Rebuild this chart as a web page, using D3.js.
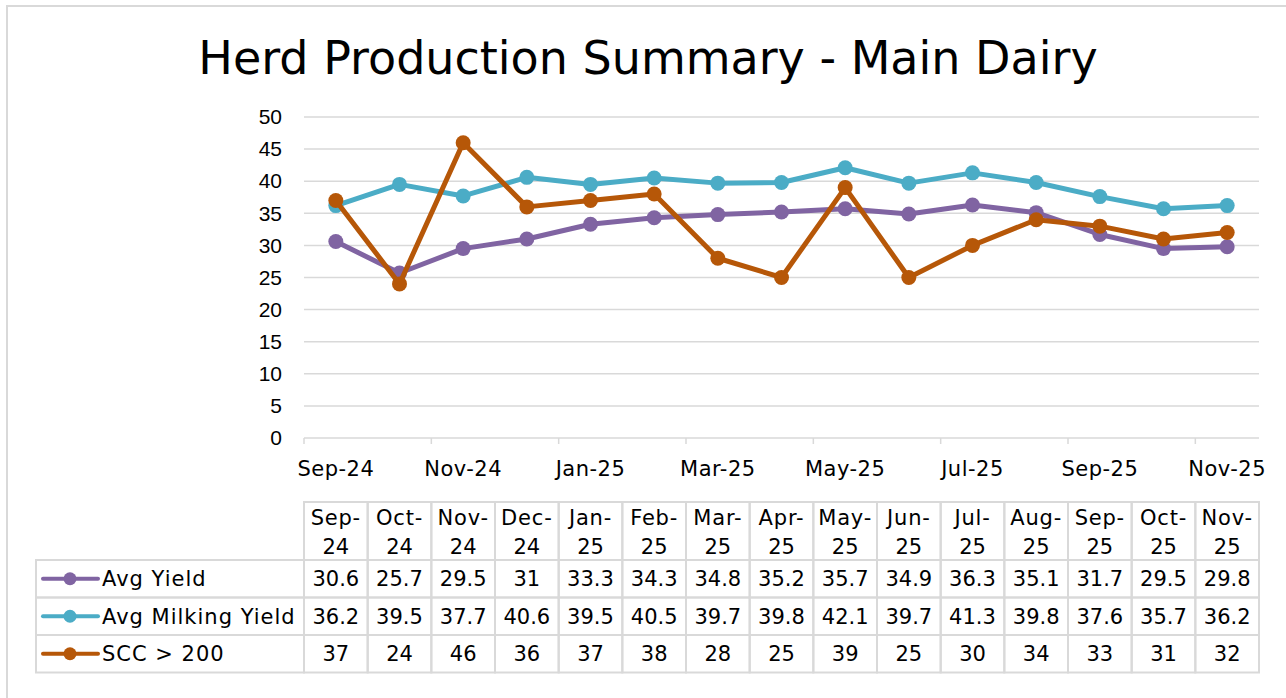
<!DOCTYPE html>
<html>
<head>
<meta charset="utf-8">
<script src="https://cdn.jsdelivr.net/npm/d3@7"></script>
<style>
  body { margin: 0; background: #fff; }
  svg { display: block; font-family: 'DejaVu Sans', sans-serif; }
</style>
</head>
<body>
<div id="chart"></div>
<script>
// data
const months = ['Sep-24', 'Oct-24', 'Nov-24', 'Dec-24', 'Jan-25', 'Feb-25', 'Mar-25', 'Apr-25',
    'May-25', 'Jun-25', 'Jul-25', 'Aug-25', 'Sep-25', 'Oct-25', 'Nov-25']
const avgYield = [30.6, 25.7, 29.5, 31, 33.3, 34.3, 34.8, 35.2, 35.7, 34.9, 36.3, 35.1, 31.7, 29.5, 29.8]
const avgMilkingYield = [36.2, 39.5, 37.7, 40.6, 39.5, 40.5, 39.7, 39.8, 42.1, 39.7, 41.3, 39.8, 37.6, 35.7, 36.2]
const scc = [37, 24, 46, 36, 37, 38, 28, 25, 39, 25, 30, 34, 33, 31, 32]
const yTicks = [0, 5, 10, 15, 20, 25, 30, 35, 40, 45, 50]

const series = [
    { name: 'Avg Yield', values: avgYield, color: '#8064a2' },
    { name: 'Avg Milking Yield', values: avgMilkingYield, color: '#4bacc6' },
    { name: 'SCC > 200', values: scc, color: '#b65708' }
]

let width = 1286,
    height = 698,
    margin = { top: 117, right: 27, bottom: 260, left: 304 },
    fs = 21

let svg = d3.select('#chart').append('svg')
    .attr('width', width)
    .attr('height', height)

// chart frame (cut off on the right and bottom in the original)
svg.append('rect')
    .attr('x', 7).attr('y', 6)
    .attr('width', width + 10).attr('height', height + 10)
    .attr('fill', '#fff')
    .attr('stroke', '#d9d9d9')
    .attr('stroke-width', 2)

svg.append('text')
    .attr('x', 648)
    .attr('y', 74)
    .attr('text-anchor', 'middle')
    .attr('font-size', 46)
    .attr('fill', '#000')
    .text('Herd Production Summary - Main Dairy')

let x = d3.scaleBand()
    .domain(months)
    .range([margin.left, width - margin.right])

let y = d3.scaleLinear()
    .domain([0, 50])
    .range([height - margin.bottom, margin.top])

// gridlines
svg.append('g')
    .selectAll('line')
    .data(yTicks)
    .enter().append('line')
    .attr('x1', margin.left)
    .attr('x2', width - margin.right)
    .attr('y1', d => y(d))
    .attr('y2', d => y(d))
    .attr('stroke', '#d9d9d9')
    .attr('stroke-width', 1.5)

let yAxis = g => g
    .attr('transform', `translate(${margin.left - 22},0)`)
    .call(d3.axisLeft(y).tickValues(yTicks).tickSize(0).tickPadding(0))
    .call(g => g.select('.domain').remove())
    .call(g => g.selectAll('text').attr('font-size', fs).attr('fill', '#000').attr('font-family', 'inherit'))

svg.append('g').call(yAxis)

// category axis: ticks on every second boundary, labels on every second category
let y0 = y(0)
svg.append('g')
    .selectAll('line')
    .data(months.filter((d, i) => i % 2 === 0))
    .enter().append('line')
    .attr('x1', d => x(d))
    .attr('x2', d => x(d))
    .attr('y1', y0)
    .attr('y2', y0 + 6)
    .attr('stroke', '#d9d9d9')
    .attr('stroke-width', 1.5)

svg.append('g')
    .selectAll('text')
    .data(months.filter((d, i) => i % 2 === 0))
    .enter().append('text')
    .attr('x', d => x(d) + x.bandwidth() / 2)
    .attr('y', y0 + 38)
    .attr('text-anchor', 'middle')
    .attr('font-size', fs)
    .attr('letter-spacing', 0.5)
    .text(d => d)

let line = d3.line()
    .x((d, i) => x(months[i]) + x.bandwidth() / 2)
    .y(d => y(d))

series.forEach(s => {
    let g = svg.append('g').attr('class', 'series')
    g.append('path')
        .datum(s.values)
        .attr('d', line)
        .attr('fill', 'none')
        .attr('stroke', s.color)
        .attr('stroke-width', 5)
        .attr('stroke-linejoin', 'round')
    g.selectAll('circle')
        .data(s.values)
        .enter().append('circle')
        .attr('cx', (d, i) => x(months[i]) + x.bandwidth() / 2)
        .attr('cy', d => y(d))
        .attr('r', 7.5)
        .attr('fill', s.color)
})

// data table
let tableTop = 502,
    headerH = 58,
    rowH = 37.5,
    legendLeft = 36

let table = svg.append('g').attr('class', 'table')
let border = '#d9d9d9'

// header cells
months.forEach(m => {
    let parts = m.split('-')
    table.append('rect')
        .attr('x', x(m)).attr('y', tableTop)
        .attr('width', x.bandwidth()).attr('height', headerH)
        .attr('fill', 'none').attr('stroke', border).attr('stroke-width', 2)
    table.append('text')
        .attr('x', x(m) + x.bandwidth() / 2)
        .attr('y', tableTop + 23)
        .attr('text-anchor', 'middle')
        .attr('font-size', fs)
        .attr('letter-spacing', 0.8)
        .text(parts[0] + '-')
    table.append('text')
        .attr('x', x(m) + x.bandwidth() / 2)
        .attr('y', tableTop + 52)
        .attr('text-anchor', 'middle')
        .attr('font-size', fs)
        .text(parts[1])
})

series.forEach((s, r) => {
    let top = tableTop + headerH + r * rowH
    let mid = top + rowH / 2
    table.append('rect')
        .attr('x', legendLeft).attr('y', top)
        .attr('width', margin.left - legendLeft).attr('height', rowH)
        .attr('fill', 'none').attr('stroke', border).attr('stroke-width', 2)
    table.append('line')
        .attr('x1', legendLeft + 7).attr('x2', legendLeft + 62)
        .attr('y1', mid).attr('y2', mid)
        .attr('stroke', s.color).attr('stroke-width', 4).attr('stroke-linecap', 'round')
    table.append('circle')
        .attr('cx', legendLeft + 34).attr('cy', mid).attr('r', 6.5)
        .attr('fill', s.color)
    table.append('text')
        .attr('x', legendLeft + 66)
        .attr('y', mid + 7.5)
        .attr('font-size', fs)
        .attr('letter-spacing', 1)
        .text(s.name)
    s.values.forEach((v, i) => {
        table.append('rect')
            .attr('x', x(months[i])).attr('y', top)
            .attr('width', x.bandwidth()).attr('height', rowH)
            .attr('fill', 'none').attr('stroke', border).attr('stroke-width', 2)
        table.append('text')
            .attr('x', x(months[i]) + x.bandwidth() / 2)
            .attr('y', mid + 7.5)
            .attr('text-anchor', 'middle')
            .attr('font-size', fs)
            .text(v)
    })
})
</script>
</body>
</html>
